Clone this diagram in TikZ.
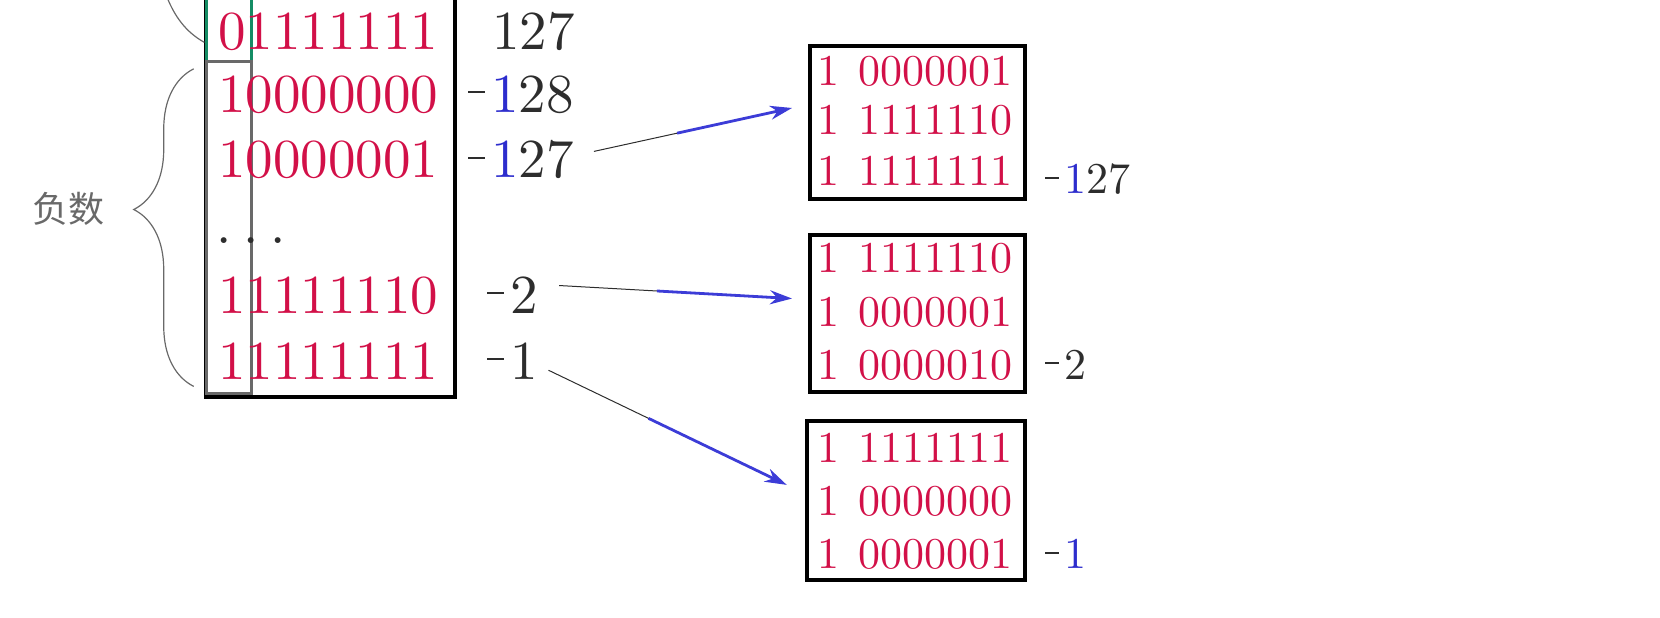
\documentclass[tikz,border=0pt]{standalone}
\usepackage{fontspec}
\newfontfamily\cjk{Noto Sans CJK SC}
\newfontfamily\lmten{lmroman10-regular.otf}
\usetikzlibrary{calc,arrows.meta,decorations.pathreplacing,fit}
\definecolor{dig}{RGB}{210,16,72}
\definecolor{txt}{RGB}{45,45,45}
\definecolor{blu}{RGB}{45,45,205}
\definecolor{gry}{RGB}{105,105,105}
\definecolor{grn}{RGB}{20,140,100}
\definecolor{arr}{RGB}{60,60,215}
\newcommand\bigminus{\rule[19pt]{17pt}{2.2pt}\hspace{6pt}}
\newcommand\smlminus{\rule[15pt]{14pt}{1.8pt}\hspace{5pt}}
\begin{document}
\begin{tikzpicture}[x=1.0587pt,y=1.0587pt,
  big/.style={font=\lmten\fontsize{55}{64}\selectfont, inner sep=0pt, anchor=base west},
  sml/.style={font=\lmten\fontsize{44}{52}\selectfont, inner sep=0pt, anchor=base west},
  cbox/.style={draw=black, line width=4pt, inner sep=0pt},
  thinpart/.style={draw=txt, line width=1pt},
  thickpart/.style={draw=arr, line width=2.8pt, -{Stealth[length=22pt,width=14pt]}},
  bracestyle/.style={draw=gry, line width=1.2pt}]
\useasboundingbox (0,0) rectangle (1568,583);

% big left box
\draw[line width=4pt] (195,596) rectangle (430,208);
\draw[grn, line width=3pt] (195,596) rectangle (238,525);
\draw[gry, line width=3pt] (195,525) rectangle (238,211);

% left column rows
\node[big, text=dig] (r1) at (206,536) {01111111};
\node[big, text=dig] (r2) at (206,477) {10000000};
\node[big, text=dig] (r3) at (206,415) {10000001};
\node[big, text=txt] (r4) at (204,353) {.\hspace{12pt}.\hspace{12pt}.};
\node[big, text=dig] (r5) at (206,287) {11111110};
\node[big, text=dig] (r6) at (206,225) {11111111};

% values
\node[big, text=txt] (v1) at (465,536) {127};
\node[big, text=txt] (v2) at (442,477) {\bigminus{\color{blu}1}28};
\node[big, text=txt] (v3) at (442,415) {\bigminus{\color{blu}1}27};
\node[big, text=txt] (v5) at (460,287) {\bigminus 2};
\node[big, text=txt] (v6) at (460,225) {\bigminus 1};

% brace and label
\draw[bracestyle, decorate, decoration={brace, amplitude=60pt, aspect=0.557}] (183,218) -- (183,518);
\node[font=\cjk\fontsize{36}{42}\selectfont, text=gry, inner sep=0pt] (neg) at (65,386) {负数};
\draw[bracestyle] (158,585) .. controls (165,568) and (175,553) .. (193,543);

% right boxes
\node[cbox, fit={(765,540) (968,395)}] (b1) {};
\node[cbox, fit={(765,361) (968,213)}] (b2) {};
\node[cbox, fit={(762,185) (968,35)}] (b3) {};

\node[sml, text=dig] (b1r1) at (772,502) {1\hspace{19pt}0000001};
\node[sml, text=dig] (b1r2) at (772,456) {1\hspace{19pt}1111110};
\node[sml, text=dig] (b1r3) at (772,408) {1\hspace{19pt}1111111};
\node[sml, text=txt] (l1) at (987,400) {\smlminus{\color{blu}1}27};

\node[sml, text=dig] (b2r1) at (772,326) {1\hspace{19pt}1111110};
\node[sml, text=dig] (b2r2) at (772,275) {1\hspace{19pt}0000001};
\node[sml, text=dig] (b2r3) at (772,225) {1\hspace{19pt}0000010};
\node[sml, text=txt] (l2) at (987,225) {\smlminus 2};

\node[sml, text=dig] (b3r1) at (772,146) {1\hspace{19pt}1111111};
\node[sml, text=dig] (b3r2) at (772,96) {1\hspace{19pt}0000000};
\node[sml, text=dig] (b3r3) at (772,46) {1\hspace{19pt}0000001};
\node[sml, text=txt] (l3) at (987,46) {\smlminus{\color{blu}1}};

% arrows
\coordinate (a1s) at ($(v3.east)+(19,8)$);
\coordinate (a1e) at ($(b1.west)+(-15,13.5)$);
\coordinate (a2s) at ($(v5.east)+(20,9)$);
\coordinate (a2e) at ($(b2.west)+(-15,14)$);
\coordinate (a3s) at ($(v6.east)+(10,-9)$);
\coordinate (a3e) at ($(b3.west)+(-17,15)$);
\foreach \s/\e in {a1s/a1e,a2s/a2e,a3s/a3e}{
  \draw[thinpart] (\s) -- ($(\s)!0.5!(\e)$);
  \draw[thickpart] ($(\s)!0.42!(\e)$) -- (\e);
}
\end{tikzpicture}
\end{document}
